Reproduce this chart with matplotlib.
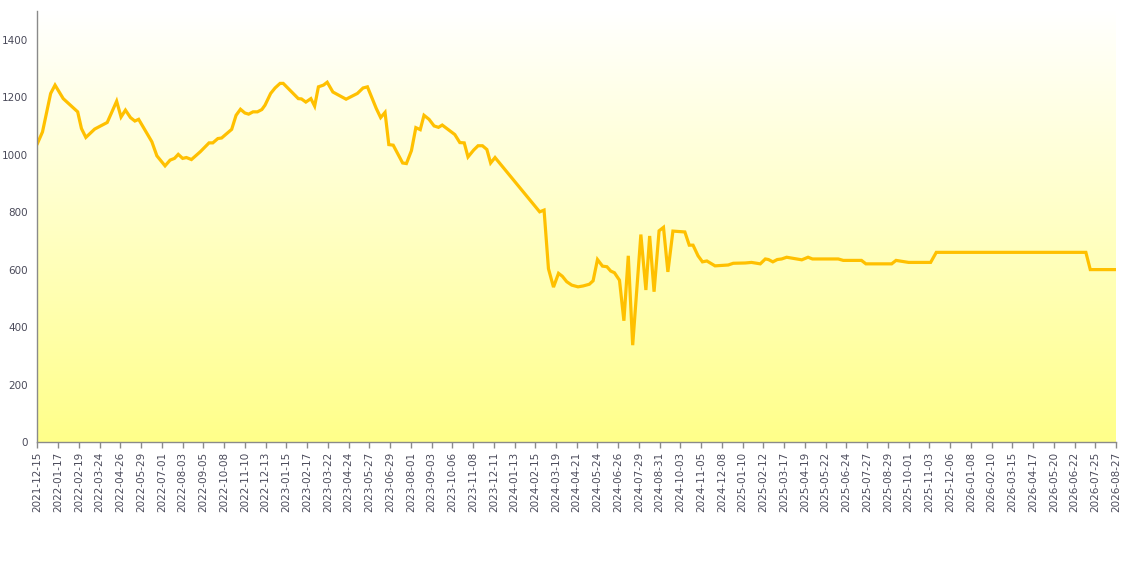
import numpy as np
import pandas as pd
import matplotlib
matplotlib.use("Agg")
import matplotlib.pyplot as plt
import matplotlib.dates as mdates

# ── Data ──────────────────────────────────────────────────────
start_date = "2021-12-15"
end_date = "2026-08-27"
tick_step_days = 33

# days after start_date
day_offsets = [
    0, 8, 21, 28, 41, 64, 70, 77, 91, 111,
    126, 133, 140, 148, 155, 161, 182, 190, 203, 211,
    218, 224, 231, 237, 245, 259, 273, 279, 287, 293,
    309, 316, 323, 330, 336, 343, 350, 357, 362, 371,
    378, 386, 391, 415, 420, 427, 435, 441, 447, 455,
    461, 470, 491, 509, 518, 525, 539, 546, 553, 559,
    566, 581, 587, 595, 602, 609, 615, 623, 631, 638,
    644, 664, 672, 679, 685, 694, 701, 708, 715, 721,
    728, 799, 806, 813, 821, 829, 835, 842, 850, 860,
    868, 878, 884, 891, 899, 906, 912, 918, 926, 933,
    940, 947, 960, 968, 974, 981, 989, 996, 1003, 1011,
    1030, 1037, 1043, 1051, 1058, 1065, 1078, 1099, 1107, 1126,
    1136, 1150, 1158, 1163, 1170, 1177, 1184, 1192, 1216, 1226,
    1233, 1274, 1282, 1311, 1318, 1359, 1366, 1386, 1421, 1430,
    1668, 1675, 1716,
]

values = [
    1039, 1079, 1213, 1242, 1195, 1149, 1091, 1060, 1089, 1112,
    1186, 1131, 1155, 1129, 1117, 1123, 1045, 996, 961, 981,
    987, 1001, 987, 990, 983, 1010, 1041, 1041, 1056, 1058,
    1088, 1137, 1158, 1145, 1141, 1149, 1149, 1157, 1172, 1213,
    1232, 1248, 1248, 1195, 1194, 1183, 1195, 1169, 1236, 1242,
    1252, 1218, 1193, 1213, 1232, 1236, 1161, 1129, 1147, 1035,
    1033, 971, 969, 1014, 1094, 1087, 1137, 1123, 1100, 1095,
    1103, 1070, 1042, 1041, 992, 1016, 1031, 1031, 1018, 971,
    990, 801, 807, 603, 539, 587, 577, 558, 546, 540,
    543, 549, 561, 635, 612, 610, 595, 589, 563, 422,
    648, 337, 722, 529, 717, 523, 735, 747, 592, 734,
    731, 685, 685, 648, 627, 630, 613, 616, 622, 623,
    625, 620, 637, 635, 627, 635, 637, 643, 634, 643,
    637, 637, 632, 632, 620, 620, 632, 625, 625, 660,
    660, 600, 600,
]

LINE_COLOR = "#FFC000"
AXIS_COLOR = "#8a8a8a"
LABEL_COLOR = "#4a4a5a"

dates = pd.Timestamp(start_date) + pd.to_timedelta(day_offsets, unit="D")
tick_dates = pd.date_range(start_date, end_date, freq=f"{tick_step_days}D")

# ── Chart ─────────────────────────────────────────────────────
fig = plt.figure(figsize=(11.28, 5.63), dpi=100)
ax = fig.add_axes([0.0332, 0.2149, 0.9562, 0.7656])

# background gradient: white at top, yellow at bottom
grad = np.linspace(0, 1, 256).reshape(-1, 1)
top = np.array([1.0, 1.0, 1.0])
bottom = np.array([1.0, 1.0, 0.54])
img = top + (bottom - top) * grad[..., None]
ax.imshow(img, extent=[0, 1, 0, 1], transform=ax.transAxes,
          aspect="auto", zorder=0, origin="upper")

ax.plot(dates, values, color=LINE_COLOR, linewidth=2.3, zorder=3,
        solid_joinstyle="miter")

ax.set_xlim(pd.Timestamp(start_date), pd.Timestamp(end_date))
ax.set_ylim(0, 1500)

ax.set_xticks(tick_dates)
ax.xaxis.set_major_formatter(mdates.DateFormatter("%Y-%m-%d"))
ax.set_yticks([0, 200, 400, 600, 800, 1000, 1200, 1400])

ax.tick_params(axis="x", rotation=90, labelsize=7.5, colors=AXIS_COLOR,
               labelcolor=LABEL_COLOR, length=4, width=1, pad=3)
ax.tick_params(axis="y", labelsize=7.5, labelcolor=LABEL_COLOR, length=0, pad=7)

for side in ["top", "right"]:
    ax.spines[side].set_visible(False)
for side in ["left", "bottom"]:
    ax.spines[side].set_color(AXIS_COLOR)
    ax.spines[side].set_linewidth(1)
    ax.spines[side].set_zorder(4)

fig.savefig("out.png", dpi=100)
